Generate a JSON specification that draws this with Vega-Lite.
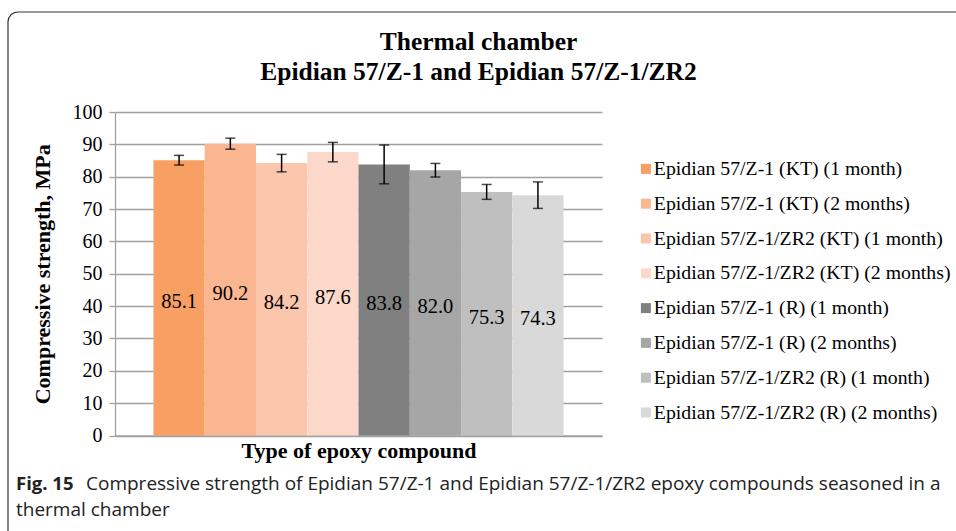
{
  "$schema": "https://vega.github.io/schema/vega-lite/v6.json",
  "width": 487,
  "height": 323.5,
  "autosize": {"type": "none"},
  "padding": {"left": 115, "top": 112, "right": 354, "bottom": 95.5},
  "background": "white",
  "config": {
    "view": {"stroke": null},
    "font": "Liberation Serif",
    "axisY": {
      "grid": true, "gridColor": "#a0a0a0", "gridWidth": 1.3,
      "domainColor": "#a0a0a0", "domainWidth": 1.3,
      "tickColor": "#a0a0a0", "tickWidth": 1.3, "tickSize": 6, "tickCount": 11,
      "labelFont": "Liberation Serif", "labelFontSize": 20, "labelColor": "black",
      "labelPadding": 7, "labelOverlap": false,
      "titleFont": "Liberation Serif", "titleFontSize": 22, "titleFontWeight": "bold",
      "titleColor": "black", "titleX": -73, "titleBaseline": "middle"
    },
    "axisX": {
      "labels": false, "ticks": false, "grid": false, "domainColor": "#a0a0a0", "domainWidth": 1.3,
      "titleFont": "Liberation Serif", "titleFontSize": 22, "titleFontWeight": "bold",
      "titleColor": "black", "titlePadding": 5
    }
  },
  "title": {
    "text": ["Thermal chamber", "Epidian 57/Z-1 and Epidian 57/Z-1/ZR2"],
    "font": "Liberation Serif",
    "fontSize": 25.5,
    "fontWeight": "bold",
    "color": "black",
    "anchor": "middle",
    "frame": "group",
    "dx": 120,
    "dy": 102,
    "offset": 28,
    "lineHeight": 30
  },
  "data": {
    "values": [
      {"name": "Epidian 57/Z-1 (KT) (1 month)", "v": 85.1, "err": 1.5},
      {"name": "Epidian 57/Z-1 (KT) (2 months)", "v": 90.2, "err": 1.7},
      {"name": "Epidian 57/Z-1/ZR2 (KT) (1 month)", "v": 84.2, "err": 2.7},
      {"name": "Epidian 57/Z-1/ZR2 (KT) (2 months)", "v": 87.6, "err": 3.0},
      {"name": "Epidian 57/Z-1 (R) (1 month)", "v": 83.8, "err": 6.0},
      {"name": "Epidian 57/Z-1 (R) (2 months)", "v": 82.0, "err": 2.1},
      {"name": "Epidian 57/Z-1/ZR2 (R) (1 month)", "v": 75.3, "err": 2.3},
      {"name": "Epidian 57/Z-1/ZR2 (R) (2 months)", "v": 74.3, "err": 4.1}
    ]
  },
  "layer": [
    {
      "mark": {"type": "bar"},
      "encoding": {
        "x": {
          "field": "name", "type": "nominal", "sort": null,
          "title": "Type of epoxy compound",
          "scale": {"paddingInner": 0, "paddingOuter": 0.75}
        },
        "y": {
          "field": "v", "type": "quantitative",
          "title": "Compressive strength, MPa",
          "scale": {"domain": [0, 100], "nice": false},
          "axis": {"values": [0, 10, 20, 30, 40, 50, 60, 70, 80, 90, 100]}
        },
        "color": {
          "field": "name", "type": "nominal", "sort": null,
          "scale": {
            "domain": [
              "Epidian 57/Z-1 (KT) (1 month)",
              "Epidian 57/Z-1 (KT) (2 months)",
              "Epidian 57/Z-1/ZR2 (KT) (1 month)",
              "Epidian 57/Z-1/ZR2 (KT) (2 months)",
              "Epidian 57/Z-1 (R) (1 month)",
              "Epidian 57/Z-1 (R) (2 months)",
              "Epidian 57/Z-1/ZR2 (R) (1 month)",
              "Epidian 57/Z-1/ZR2 (R) (2 months)"
            ],
            "range": ["#F8A063", "#F9B691", "#FAC7AD", "#FBD8CA", "#808080", "#A6A6A6", "#BFBFBF", "#D9D9D9"]
          },
          "legend": {
            "title": null, "orient": "none", "legendX": 521, "legendY": 47,
            "padding": 0, "symbolType": "square", "symbolSize": 100, "symbolStrokeWidth": 0,
            "labelFont": "Liberation Serif", "labelFontSize": 19.8, "labelColor": "black",
            "labelLimit": 400, "labelOffset": -2, "rowPadding": 13.8
          }
        }
      }
    },
    {
      "mark": {
        "type": "errorbar", "color": "black",
        "ticks": {"size": 10, "thickness": 1.5, "color": "black"},
        "rule": {"strokeWidth": 1.5, "color": "black"}
      },
      "encoding": {
        "x": {"field": "name", "type": "nominal", "sort": null, "title": "Type of epoxy compound"},
        "y": {"field": "v", "type": "quantitative", "title": "Compressive strength, MPa",
              "axis": {"values": [0, 10, 20, 30, 40, 50, 60, 70, 80, 90, 100]}},
        "yError": {"field": "err"}
      }
    },
    {
      "transform": [{"calculate": "datum.v / 2", "as": "mid"}],
      "mark": {"type": "text", "font": "Liberation Serif", "fontSize": 20.5, "color": "black", "dy": 4},
      "encoding": {
        "x": {"field": "name", "type": "nominal", "sort": null, "title": "Type of epoxy compound"},
        "y": {"field": "mid", "type": "quantitative", "title": "Compressive strength, MPa",
              "axis": {"values": [0, 10, 20, 30, 40, 50, 60, 70, 80, 90, 100]}},
        "text": {"field": "v", "type": "quantitative", "format": ".1f"}
      }
    },
    {
      "data": {"values": [{"t": "Fig. 15"}]},
      "mark": {"type": "text", "font": "Open Sans", "fontSize": 18.5, "fontWeight": "bold", "color": "#222", "align": "left", "baseline": "middle"},
      "encoding": {"x": {"value": -99}, "y": {"value": 372}, "text": {"field": "t"}}
    },
    {
      "data": {"values": [{"t": "Compressive strength of Epidian 57/Z-1 and Epidian 57/Z-1/ZR2 epoxy compounds seasoned in a"}]},
      "mark": {"type": "text", "font": "Open Sans", "fontSize": 19, "color": "#222", "align": "left", "baseline": "middle"},
      "encoding": {"x": {"value": -29}, "y": {"value": 372}, "text": {"field": "t"}}
    },
    {
      "data": {"values": [{"t": "thermal chamber"}]},
      "mark": {"type": "text", "font": "Open Sans", "fontSize": 19, "color": "#222", "align": "left", "baseline": "middle"},
      "encoding": {"x": {"value": -99}, "y": {"value": 398}, "text": {"field": "t"}}
    },
    {
      "data": {"values": [{"frame": 1}]},
      "mark": {"type": "rect", "fill": null, "stroke": "#333", "strokeWidth": 1.2, "cornerRadius": 10},
      "encoding": {"x": {"value": -107}, "y": {"value": -100}, "x2": {"value": 900}, "y2": {"value": 460}}
    }
  ]
}
